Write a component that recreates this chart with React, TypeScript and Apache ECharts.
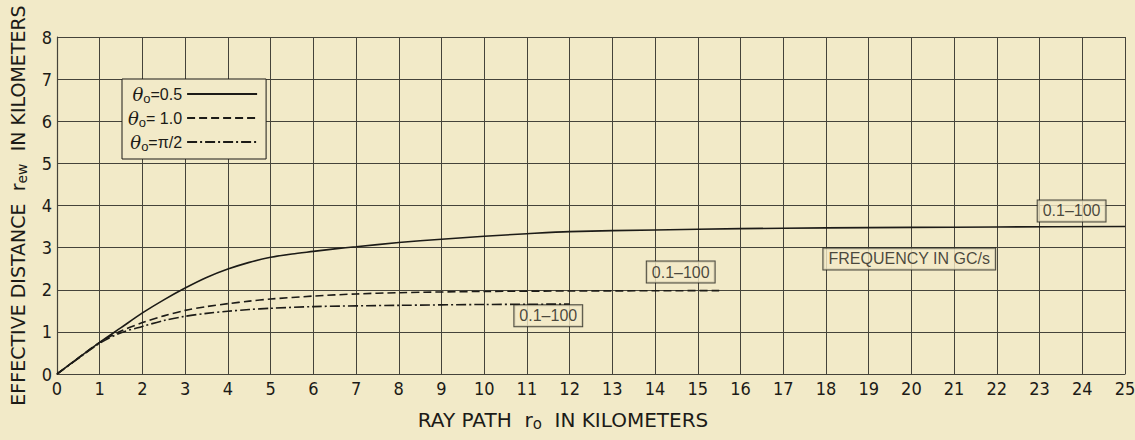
import React, { useEffect, useRef } from "react";
import * as echarts from "echarts";

const xSolid = [0, 0.5, 1, 1.5, 2, 2.5, 3, 3.5, 4, 4.5, 5, 5.5, 6, 6.5, 7, 8, 9, 10, 11, 12, 14, 16, 18, 20, 22, 25];
const ySolid = [0, 0.38, 0.75, 1.1, 1.45, 1.76, 2.04, 2.29, 2.49, 2.65, 2.77, 2.85, 2.91, 2.97, 3.02, 3.12, 3.2, 3.27, 3.33, 3.38, 3.42, 3.45, 3.47, 3.48, 3.49, 3.5];

const xDashed = [0, 0.5, 1, 1.5, 2, 2.5, 3, 3.5, 4, 4.5, 5, 6, 7, 8, 10, 12, 15.5];
const yDashed = [0, 0.38, 0.75, 1.02, 1.22, 1.38, 1.51, 1.6, 1.67, 1.73, 1.78, 1.85, 1.9, 1.93, 1.96, 1.97, 1.98];

const xDashDot = [0, 0.5, 1, 1.5, 2, 2.5, 3, 3.5, 4, 4.5, 5, 6, 8, 10, 12];
const yDashDot = [0, 0.37, 0.73, 0.98, 1.13, 1.27, 1.37, 1.44, 1.49, 1.53, 1.56, 1.6, 1.63, 1.65, 1.66];

const seriesNames = ["θo=0.5", "θo=1.0", "θo=π/2"];
const legendLabels = ["{t|θ}{s|o}{v|=0.5}", "{t|θ}{s|o}{v|= 1.0}", "{t|θ}{s|o}{v|=π/2}"];

const noteX = [23.75, 14.6, 11.5, 19.95];
const noteY = [3.87, 2.42, 1.38, 2.73];
const noteText = ["0.1–100", "0.1–100", "0.1–100", "FREQUENCY IN GC/s"];

const BG = "#f2eac8";
const INK = "#1c1b17";
const GRID = "#45433a";
const NARROW = "'Liberation Sans Narrow', 'DejaVu Sans Condensed', sans-serif";
const SANS = "'Liberation Sans', 'DejaVu Sans', sans-serif";
const WIDE = "'DejaVu Sans', sans-serif";

const zip = (xs: number[], ys: number[]) => xs.map((x, i) => [x, ys[i]]);

export default function App() {
  const ref = useRef<HTMLDivElement>(null);
  useEffect(() => {
    if (!ref.current) return;
    const chart = echarts.init(ref.current, null, { renderer: "svg" });
    chart.setOption({
      animation: false,
      backgroundColor: BG,
      textStyle: { fontFamily: SANS },
      grid: { left: 57, right: 10, top: 37, bottom: 66, outerBoundsMode: "none", containLabel: false },
      xAxis: {
        type: "value",
        min: 0,
        max: 25,
        interval: 1,
        axisLine: { show: true, lineStyle: { color: GRID, width: 1.2 } },
        axisTick: { show: false },
        splitLine: { show: true, lineStyle: { color: GRID, width: 1 } },
        axisLabel: { color: INK, fontSize: 18, fontFamily: NARROW, margin: 5 },
        name: "RAY PATH  r{s|o}  IN KILOMETERS",
        nameLocation: "middle",
        nameGap: 34,
        nameTextStyle: {
          color: INK,
          fontSize: 20,
          fontFamily: WIDE,
          padding: [0, 56, 0, 0],
          rich: { s: { fontSize: 15, fontFamily: WIDE, color: INK, padding: [8, 0, 0, 0] } },
        },
      },
      yAxis: {
        type: "value",
        min: 0,
        max: 8,
        interval: 1,
        axisLine: { show: true, lineStyle: { color: GRID, width: 1.2 } },
        axisTick: { show: false },
        splitLine: { show: true, lineStyle: { color: GRID, width: 1 } },
        axisLabel: { color: INK, fontSize: 18, fontFamily: NARROW, margin: 5 },
        name: "EFFECTIVE DISTANCE  r{s|ew}  IN KILOMETERS",
        nameLocation: "middle",
        nameGap: 28,
        nameTextStyle: {
          color: INK,
          fontSize: 19,
          fontFamily: WIDE,
          rich: { s: { fontSize: 14, fontFamily: WIDE, color: INK, padding: [8, 0, 0, 0] } },
        },
      },
      legend: {
        show: true,
        orient: "vertical",
        left: 122,
        top: 79,
        align: "right",
        itemWidth: 70,
        itemHeight: 12,
        itemGap: 4,
        padding: [6, 8, 6, 6],
        backgroundColor: BG,
        borderColor: INK,
        borderWidth: 1,
        data: seriesNames,
        itemStyle: { opacity: 0 },
        formatter: (name: string) => legendLabels[seriesNames.indexOf(name)],
        textStyle: {
          color: INK,
          fontFamily: SANS,
          fontSize: 16,
          width: 62,
          rich: {
            t: { fontSize: 18, fontStyle: "italic", fontFamily: "'DejaVu Serif', serif", color: INK, lineHeight: 20 },
            s: { fontSize: 13, fontFamily: SANS, color: INK, padding: [9, 0, 0, 0] },
            v: { fontSize: 16, fontFamily: SANS, color: INK, lineHeight: 20 },
          },
        },
      },
      series: [
        {
          name: seriesNames[0],
          type: "line",
          data: zip(xSolid, ySolid),
          smooth: 0.3,
          symbol: "none",
          lineStyle: { color: INK, width: 1.6, type: "solid" },
          itemStyle: { color: INK },
        },
        {
          name: seriesNames[1],
          type: "line",
          data: zip(xDashed, yDashed),
          smooth: 0.3,
          symbol: "none",
          lineStyle: { color: INK, width: 1.6, type: [8, 4] },
          itemStyle: { color: INK },
        },
        {
          name: seriesNames[2],
          type: "line",
          data: zip(xDashDot, yDashDot),
          smooth: 0.3,
          symbol: "none",
          lineStyle: { color: INK, width: 1.6, type: [10, 3, 2, 3] },
          itemStyle: { color: INK },
        },
        {
          name: "notes",
          type: "scatter",
          symbolSize: 0,
          silent: true,
          data: noteX.map((x, i) => ({ value: [x, noteY[i]], name: noteText[i] })),
          label: {
            show: true,
            position: "inside",
            formatter: (p: any) => p.name,
            color: INK,
            fontFamily: SANS,
            fontSize: 16,
            backgroundColor: BG,
            borderColor: INK,
            borderWidth: 1,
            padding: [3, 5, 2, 5],
          },
        },
      ],
    });
    return () => chart.dispose();
  }, []);
  return (
    <div
      ref={ref}
      style={{ position: "absolute", left: 0, top: 0, width: 1135, height: 440 }}
    />
  );
}
